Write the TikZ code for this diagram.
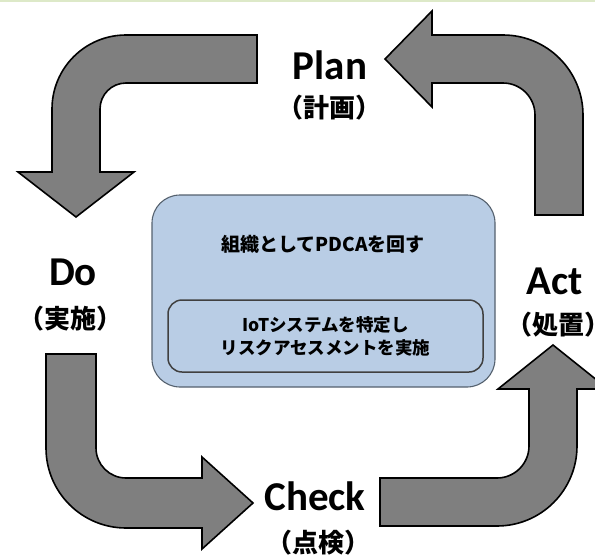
\documentclass[tikz,border=0pt]{standalone}
\usepackage{fontspec}
\setmainfont{Carlito}
\newfontfamily\jpfont{Noto Sans CJK JP}
\usepackage{tikz}
\definecolor{boxblue}{HTML}{B9CDE5}
\definecolor{boxline}{HTML}{55616E}
\definecolor{arrowgray}{HTML}{7F7F7F}
\definecolor{frameline}{HTML}{DDE9C8}

\begin{document}
\begin{tikzpicture}[x=1pt,y=-1pt]

\tikzset{
	bent/.style={
		draw=black,
		fill=arrowgray,
		line width=1.6pt,
		line join=miter},
	phase/.style={
		font=\fontsize{41}{41}\selectfont\bfseries,
		inner sep=0pt},
	phasejp/.style={
		font=\jpfont\bfseries\fontsize{26}{26}\selectfont,
		inner sep=0pt},
	orgbox/.style={
		draw=boxline,
		fill=boxblue,
		rounded corners=28pt,
		line width=1.1pt,
		minimum width=343pt,
		minimum height=192pt},
	riskbox/.style={
		draw=black!75,
		fill=boxblue,
		rounded corners=14pt,
		line width=1.5pt,
		minimum width=315pt,
		minimum height=72pt,
		align=center,
		font=\jpfont\bfseries\fontsize{17.5}{23}\selectfont}
}

\useasboundingbox (0,0) rectangle (595,557);
\clip (0,0) rectangle (595,557);
\draw[frameline,line width=2pt] (0,0.5) -- (595,0.5);

% block arrows, clockwise from Plan
\draw[bent] (257,35) -- (126,35) arc[start angle=270,end angle=180,radius=74]
	-- (52,172) -- (18,172) -- (76,217) -- (134,172) -- (100,172)
	-- (100,109) arc[start angle=180,end angle=270,radius=26] -- (257,83) -- cycle;
\draw[bent] (46,354) -- (46,448) arc[start angle=180,end angle=90,radius=80]
	-- (202,528) -- (202,549) -- (253,503) -- (202,457) -- (202,478)
	-- (126,478) arc[start angle=90,end angle=180,radius=30] -- (96,354) -- cycle;
\draw[bent] (380,478) -- (497,478) arc[start angle=90,end angle=0,radius=32]
	-- (529,389) -- (498,389) -- (553,345) -- (608,389) -- (577,389)
	-- (577,446) arc[start angle=0,end angle=90,radius=80] -- (380,526) -- cycle;
\draw[bent] (583,215) -- (583,115) arc[start angle=0,end angle=-90,radius=80]
	-- (432,35) -- (432,11) -- (385,59) -- (432,107) -- (432,83)
	-- (503,83) arc[start angle=-90,end angle=0,radius=32] -- (535,215) -- cycle;

\node[phase] (plan) at (330,65) {Plan};
\node[phasejp] (planjp) at (329,108) {（計画）};
\node[phase] (do) at (73,272) {Do};
\node[phasejp] (dojp) at (71,319) {（実施）};
\node[phase] (check) at (315,496) {Check};
\node[phasejp] (checkjp) at (318,543) {（点検）};
\node[phase] (act) at (555,281) {Act};
\node[phasejp] (actjp) at (558,325) {（処置）};

\node[orgbox] (org) at (323.5,291) {};
\node[font=\jpfont\bfseries\fontsize{19}{19}\selectfont,inner sep=0pt] (orgtxt) at (323,244) {組織としてPDCAを回す};
\node[riskbox] (risk) at (325.5,336) {IoTシステムを特定し\\リスクアセスメントを実施};

\end{tikzpicture}
\end{document}
